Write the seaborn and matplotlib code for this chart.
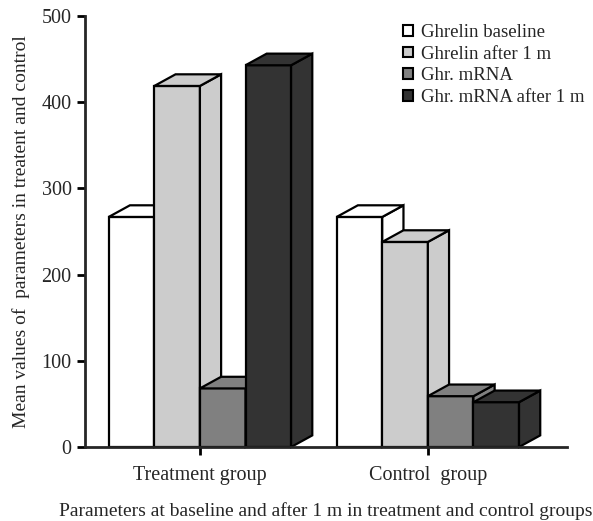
import pandas as pd
import matplotlib.pyplot as plt
import seaborn as sns
from matplotlib.patches import Polygon

groups = ['Treatment group', 'Control  group']
series = ['Ghrelin baseline', 'Ghrelin after 1 m', 'Ghr. mRNA', 'Ghr. mRNA after 1 m']
treatment = [267, 419, 68, 443]
control = [267, 238, 59, 52]
colors = ['#ffffff', '#cccccc', '#808080', '#333333']

df = pd.DataFrame({
    'group': [g for g in groups for _ in series],
    'series': series * 2,
    'value': treatment + control,
})

sns.set_style("ticks")
plt.rcParams['font.family'] = ['Liberation Serif', 'DejaVu Serif']

fig = plt.figure(figsize=(5.93, 5.21), dpi=100)
ax = fig.add_axes([0.143, 0.142, 0.813, 0.827])

sns.barplot(data=df, x='group', y='value', hue='series', palette=colors,
            edgecolor='black', linewidth=1.6, width=0.8, ax=ax, legend=False)

# fake 3D depth: top and right faces
dx, dy = 0.093, 13.5
for p in ax.patches:
    x0, w, h = p.get_x(), p.get_width(), p.get_height()
    x1 = x0 + w
    z = 2 + x0
    p.set_zorder(z)
    fc = p.get_facecolor()
    side = Polygon([(x1, 0), (x1 + dx, dy), (x1 + dx, h + dy), (x1, h)],
                   closed=True, facecolor=fc, edgecolor='black', lw=1.6, zorder=z, clip_on=False)
    top = Polygon([(x0, h), (x0 + dx, h + dy), (x1 + dx, h + dy), (x1, h)],
                  closed=True, facecolor=fc, edgecolor='black', lw=1.6, zorder=z, clip_on=False)
    ax.add_patch(side)
    ax.add_patch(top)

ax.set_xlim(-0.505, 1.61)
ax.set_ylim(0, 500)
ax.set_yticks([0, 100, 200, 300, 400, 500])
sns.despine(ax=ax)
for s in ['left', 'bottom']:
    ax.spines[s].set_linewidth(2)
    ax.spines[s].set_zorder(20)
ax.tick_params(axis='both', width=2, length=6, labelsize=14.5, color='black')
ax.tick_params(axis='x', pad=8)

ax.set_xlabel('Parameters at baseline and after 1 m in treatment and control groups', fontsize=14, labelpad=12)
ax.set_ylabel('Mean values of  parameters in treatent and control', fontsize=14, labelpad=8)

handles = [plt.Rectangle((0, 0), 1, 1, facecolor=c, edgecolor='black', lw=1.5) for c in colors]
ax.legend(handles, series, loc='upper left', bbox_to_anchor=(0.664, 0.972),
          bbox_transform=fig.transFigure, frameon=False, fontsize=13.5,
          handlelength=0.5, handleheight=0.5, handletextpad=0.45,
          labelspacing=0.25, borderpad=0)

plt.savefig('out.png', dpi=100)
